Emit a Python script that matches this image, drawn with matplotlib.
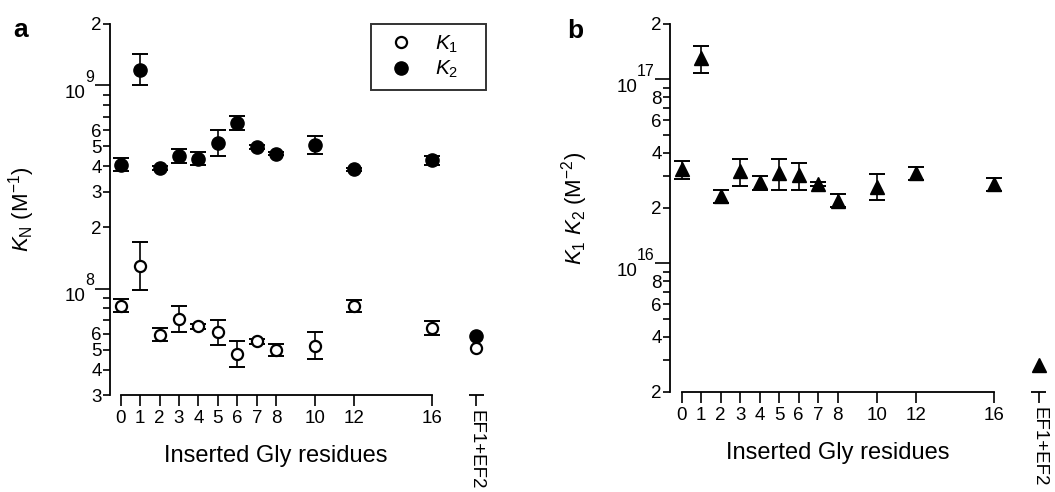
import numpy as np
import matplotlib
matplotlib.use("Agg")
import matplotlib.pyplot as plt
import matplotlib.transforms as mtransforms

plt.rcParams['font.family'] = ['Liberation Sans', 'DejaVu Sans']
plt.rcParams['mathtext.fontset'] = 'custom'
plt.rcParams['mathtext.rm'] = 'Liberation Sans'
plt.rcParams['mathtext.it'] = 'Liberation Sans:italic'
plt.rcParams['mathtext.bf'] = 'Liberation Sans:bold'

# inserted Gly residues
gly = [0, 1, 2, 3, 4, 5, 6, 7, 8, 10, 12, 16]
ef_pos = 18.3
ef_label = "EF1+EF2"

# panel a, K1 (open) and K2 (filled), M^-1
k1 = [8.25e7, 1.29e8, 5.93e7, 7.11e7, 6.52e7, 6.09e7, 4.77e7, 5.50e7, 5.00e7, 5.24e7, 8.25e7, 6.40e7]
k1_lo = [7.64e7, 9.8e7, 5.50e7, 6.09e7, 6.35e7, 5.28e7, 4.10e7, 5.36e7, 4.64e7, 4.52e7, 7.64e7, 5.93e7]
k1_hi = [8.90e7, 1.69e8, 6.40e7, 8.25e7, 6.70e7, 7.04e7, 5.50e7, 5.64e7, 5.36e7, 6.09e7, 8.83e7, 6.90e7]
k2 = [4.05e8, 1.19e9, 3.93e8, 4.49e8, 4.35e8, 5.22e8, 6.52e8, 4.97e8, 4.61e8, 5.06e8, 3.86e8, 4.27e8]
k2_lo = [3.77e8, 1.0e9, 3.85e8, 4.16e8, 4.05e8, 4.48e8, 6.05e8, 4.87e8, 4.52e8, 4.59e8, 3.78e8, 4.05e8]
k2_hi = [4.37e8, 1.42e9, 4.01e8, 4.84e8, 4.71e8, 6.05e8, 7.06e8, 5.07e8, 4.70e8, 5.63e8, 3.94e8, 4.48e8]
ef_k1 = 5.1e7
ef_k2 = 5.87e7

# panel b, K1*K2, M^-2
k1k2 = [3.27e16, 1.31e17, 2.31e16, 3.18e16, 2.77e16, 3.10e16, 3.01e16, 2.69e16, 2.18e16, 2.60e16, 3.10e16, 2.69e16]
k1k2_lo = [2.89e16, 1.08e17, 2.14e16, 2.65e16, 2.52e16, 2.52e16, 2.52e16, 2.62e16, 2.02e16, 2.20e16, 2.83e16, 2.46e16]
k1k2_hi = [3.60e16, 1.51e17, 2.52e16, 3.71e16, 2.98e16, 3.71e16, 3.50e16, 2.76e16, 2.39e16, 3.06e16, 3.34e16, 2.91e16]
ef_k1k2 = 2.79e15

xtick_pos = gly + [ef_pos]
xtick_labels = [str(g) for g in gly] + [ef_label]

TICK_FS = 13.5


def yerr(vals, lo, hi):
    vals = np.array(vals)
    return [vals - np.array(lo), np.array(hi) - vals]


def style_axes(ax, xmin, xmax, ymin, ymax, decades, minor, minor_labels):
    ax.set_yscale('log')
    ax.set_xlim(xmin, xmax)
    ax.set_ylim(ymin, ymax)
    for s in ['top', 'right']:
        ax.spines[s].set_visible(False)
    ax.spines['left'].set_linewidth(1.3)
    ax.spines['bottom'].set_linewidth(1.3)
    ax.spines['bottom'].set_bounds(0, 16)

    # decade labels drawn by hand so the exponent can be big
    ax.set_yticks([10.0 ** d for d in decades], labels=['' for d in decades])
    ax.set_yticks(minor, labels=minor_labels, minor=True)
    ax.tick_params(axis='y', which='major', direction='out', length=11, width=1.2, pad=1)
    ax.tick_params(axis='y', which='minor', direction='out', length=5, width=1.2,
                   labelsize=TICK_FS, pad=1)
    for d in decades:
        e = str(d)
        p = -(16 + 8 * len(e))
        ax.annotate('10', xy=(0, 10.0 ** d), xycoords=('axes fraction', 'data'),
                    xytext=(p, -8), textcoords='offset pixels',
                    ha='right', va='center', fontsize=TICK_FS)
        ax.annotate(e, xy=(0, 10.0 ** d), xycoords=('axes fraction', 'data'),
                    xytext=(p - 1, 8), textcoords='offset pixels',
                    ha='left', va='center', fontsize=11.5)

    ax.set_xticks(xtick_pos, labels=xtick_labels)
    ax.tick_params(axis='x', which='major', direction='out', length=8, width=1.2,
                   labelsize=TICK_FS, pad=3)
    ax.tick_params(axis='x', which='minor', bottom=False)
    lab = ax.get_xticklabels()[-1]
    lab.set_rotation(-90)
    lab.set_va('top')

    # little separate axis piece under EF1+EF2
    trans = mtransforms.blended_transform_factory(ax.transData, ax.transAxes)
    ax.plot([ef_pos - 0.4, ef_pos + 0.4], [0, 0], color='black', lw=1.3,
            transform=trans, clip_on=False, solid_capstyle='butt')

    ax.set_xlabel("Inserted Gly residues", fontsize=17)
    ax.xaxis.set_label_coords(8, -0.135, transform=trans)


fig = plt.figure(figsize=(10.55, 4.92), dpi=100)
ax1 = fig.add_axes([110 / 1055, 1 - 395 / 492, 389.8 / 1055, 371 / 492])
ax2 = fig.add_axes([670 / 1055, 1 - 392 / 492, 380.3 / 1055, 368 / 492])

# ---- panel a
minor_a = [3e7, 4e7, 5e7, 6e7, 7e7, 8e7, 9e7,
           2e8, 3e8, 4e8, 5e8, 6e8, 7e8, 8e8, 9e8, 2e9]
minor_a_lab = ['3', '4', '5', '6', '', '', '',
               '2', '3', '4', '5', '6', '', '', '', '2']
style_axes(ax1, -0.55, 19.5, 3e7, 2e9, [8, 9], minor_a, minor_a_lab)

eb = dict(fmt='none', ecolor='black', elinewidth=1.2, capsize=5.5, capthick=1.4, zorder=2)
ax1.errorbar(gly, k1, yerr=yerr(k1, k1_lo, k1_hi), **eb)
ax1.errorbar(gly, k2, yerr=yerr(k2, k2_lo, k2_hi), **eb)
ax1.plot(gly + [ef_pos], k1 + [ef_k1], 'o', ms=8, mfc='white', mec='black', mew=1.6,
         ls='none', zorder=4, clip_on=False, label=r'$\mathit{K}_1$' + '    ')
ax1.plot(gly + [ef_pos], k2 + [ef_k2], 'o', ms=9.5, mfc='black', mec='black',
         ls='none', zorder=3, clip_on=False, label=r'$\mathit{K}_2$' + '    ')
ax1.set_ylabel(r'$\mathit{K}_\mathrm{N}$ (M$^{-1}$)', fontsize=16)
ax1.yaxis.set_label_coords(-73 / 389.8, 0.5)

leg = ax1.legend(loc='upper right', bbox_to_anchor=(0.965, 1.0), borderaxespad=0,
                 fontsize=15, frameon=True, fancybox=False, edgecolor='black',
                 handlelength=2.0, handletextpad=0.6, borderpad=0.45,
                 labelspacing=0.2)
leg.get_frame().set_linewidth(1.4)

# ---- panel b
minor_b = [2e15, 3e15, 4e15, 5e15, 6e15, 7e15, 8e15, 9e15,
           2e16, 3e16, 4e16, 5e16, 6e16, 7e16, 8e16, 9e16, 2e17]
minor_b_lab = ['2', '', '4', '', '6', '', '8', '',
               '2', '', '4', '', '6', '', '8', '', '2']
style_axes(ax2, -0.6, 18.9, 2e15, 2e17, [16, 17], minor_b, minor_b_lab)

ax2.errorbar(gly, k1k2, yerr=yerr(k1k2, k1k2_lo, k1k2_hi), **eb)
ax2.plot(gly + [ef_pos], k1k2 + [ef_k1k2], '^', ms=9.8, mfc='black', mec='black',
         ls='none', zorder=3, clip_on=False)
ax2.set_ylabel(r'$\mathit{K}_1\ \mathit{K}_2$ (M$^{-2}$)', fontsize=16)
ax2.yaxis.set_label_coords(-80 / 380.3, 0.5)

fig.text(13 / 1055, 1 - 37 / 492, 'a', fontsize=19, fontweight='bold')
fig.text(567 / 1055, 1 - 38 / 492, 'b', fontsize=19, fontweight='bold')

fig.savefig('out.png', dpi=100)
